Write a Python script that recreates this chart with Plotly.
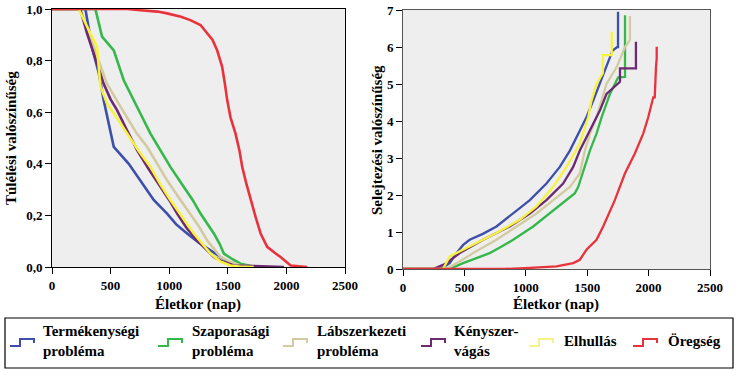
import plotly.graph_objects as go
from plotly.subplots import make_subplots

W, H = 738, 375

# ---------------- data ----------------
series_names = ["Termékenységi<br>probléma", "Szaporasági<br>probléma", "Lábszerkezeti<br>probléma",
                "Kényszer-<br>vágás", "Elhullás", "Öregség"]
series_colors = ["#3d4fa8", "#35b84a", "#d3cba0", "#6e2a70", "#f6f240", "#e8333c"]

# survival (left panel)
surv_t_term = [0, 285, 342, 400, 441, 527, 655, 760, 868, 982, 1060, 1153, 1250, 1352, 1450, 1523, 1600, 1722]
surv_s_term = [1, 1, 0.85, 0.75, 0.646, 0.466, 0.40, 0.33, 0.26, 0.207, 0.165, 0.13, 0.095, 0.065, 0.035, 0.013, 0.006, 0]

surv_t_szap = [0, 370, 427, 527, 612, 700, 754, 840, 925, 1010, 1125, 1200, 1267, 1381, 1430, 1466, 1540, 1608, 1700, 1780]
surv_s_szap = [1, 1, 0.893, 0.84, 0.724, 0.64, 0.595, 0.517, 0.45, 0.388, 0.31, 0.26, 0.207, 0.13, 0.09, 0.052, 0.03, 0.013, 0.004, 0]

surv_t_lab = [0, 242, 313, 400, 470, 560, 640, 720, 811, 900, 982, 1080, 1181, 1250, 1324, 1438, 1520, 1608, 1700, 1836]
surv_s_lab = [1, 1, 0.906, 0.80, 0.71, 0.64, 0.58, 0.52, 0.466, 0.40, 0.336, 0.27, 0.207, 0.16, 0.103, 0.039, 0.02, 0.006, 0.003, 0]

surv_t_keny = [0, 240, 299, 380, 441, 500, 555, 640, 726, 825, 925, 1000, 1068, 1150, 1238, 1381, 1460, 1552, 1700, 1850, 1979]
surv_s_keny = [1, 1, 0.906, 0.79, 0.71, 0.65, 0.608, 0.53, 0.453, 0.38, 0.31, 0.26, 0.207, 0.15, 0.103, 0.039, 0.02, 0.006, 0.004, 0.002, 0]

surv_t_elh = [0, 228, 327, 384, 413, 470, 550, 640, 740, 840, 925, 1010, 1110, 1210, 1352, 1440, 1523, 1600, 1722]
surv_s_elh = [1, 1, 0.906, 0.854, 0.70, 0.634, 0.58, 0.517, 0.45, 0.388, 0.32, 0.26, 0.195, 0.13, 0.052, 0.02, 0.006, 0.002, 0]

surv_t_oreg = [0, 640, 754, 900, 982, 1100, 1181, 1267, 1324, 1370, 1409, 1452, 1475, 1495, 1523, 1566, 1600, 1623,
               1660, 1694, 1737, 1780, 1836, 1900, 1950, 2036, 2100, 2178]
surv_s_oreg = [1, 1, 0.995, 0.99, 0.983, 0.97, 0.957, 0.938, 0.906, 0.88, 0.84, 0.776, 0.71, 0.647, 0.58, 0.517, 0.45,
               0.388, 0.32, 0.26, 0.194, 0.13, 0.078, 0.055, 0.039, 0.006, 0.002, 0]

# cumulative hazard (right panel)
haz_t_term = [0, 272, 330, 380, 435, 490, 543, 650, 761, 897, 1033, 1168, 1277, 1359, 1427, 1494, 1549, 1603, 1657, 1706, 1745, 1751, 1751]
haz_h_term = [0, 0, 0.05, 0.16, 0.43, 0.65, 0.79, 0.95, 1.15, 1.5, 1.86, 2.31, 2.76, 3.2, 3.66, 4.1, 4.55, 5.0, 5.45, 5.9, 6.0, 6.0, 6.95]

haz_t_szap = [0, 380, 489, 600, 706, 800, 897, 1060, 1196, 1331, 1400, 1427, 1481, 1522, 1576, 1617, 1685, 1752, 1808, 1808]
haz_h_szap = [0, 0, 0.16, 0.3, 0.43, 0.6, 0.79, 1.15, 1.5, 1.86, 2.05, 2.22, 2.76, 3.2, 3.66, 4.1, 4.73, 5.18, 5.19, 6.86]

haz_t_lab = [0, 353, 460, 571, 761, 924, 1087, 1223, 1359, 1440, 1460, 1481, 1522, 1576, 1657, 1739, 1808, 1848, 1848]
haz_h_lab = [0, 0, 0.2, 0.43, 0.79, 1.15, 1.5, 1.86, 2.22, 2.58, 2.9, 3.2, 3.66, 4.1, 5.0, 5.45, 6.0, 6.19, 6.84]

haz_t_keny = [0, 245, 350, 462, 652, 869, 1033, 1168, 1304, 1386, 1440, 1535, 1603, 1657, 1767, 1767, 1897, 1897]
haz_h_keny = [0, 0, 0.15, 0.43, 0.79, 1.15, 1.5, 1.86, 2.31, 2.76, 3.2, 3.84, 4.28, 4.73, 5.06, 5.42, 5.42, 6.14]

haz_t_elh = [0, 326, 380, 543, 761, 951, 1087, 1223, 1331, 1440, 1508, 1535, 1576, 1628, 1628, 1700, 1700]
haz_h_elh = [0, 0, 0.34, 0.61, 0.97, 1.33, 1.69, 2.22, 2.76, 3.39, 4.1, 4.55, 5.0, 5.3, 5.78, 5.78, 6.41]

haz_t_oreg = [0, 815, 1033, 1250, 1386, 1440, 1494, 1576, 1630, 1725, 1807, 1888, 1956, 1997, 2038, 2050, 2060, 2066, 2066]
haz_h_oreg = [0, 0, 0.03, 0.07, 0.16, 0.25, 0.52, 0.79, 1.15, 1.86, 2.58, 3.12, 3.66, 4.1, 4.64, 4.64, 5.45, 5.7, 6.01]

x_tickvals = [0, 500, 1000, 1500, 2000, 2500]
x_ticktext = ["0", "500", "1000", "1500", "2000", "2500"]
y1_tickvals = [0, 0.2, 0.4, 0.6, 0.8, 1.0]
y1_ticktext = ["0,0", "0,2", "0,4", "0,6", "0,8", "1,0"]
y2_tickvals = [0, 1, 2, 3, 4, 5, 6, 7]
y2_ticktext = ["0", "1", "2", "3", "4", "5", "6", "7"]

left_title_y = "Túlélési valószínűség"
right_title_y = "Selejtezési valószínűség"
title_x = "Életkor (nap)"

surv_sets = [(surv_t_term, surv_s_term), (surv_t_szap, surv_s_szap), (surv_t_lab, surv_s_lab),
             (surv_t_keny, surv_s_keny), (surv_t_elh, surv_s_elh), (surv_t_oreg, surv_s_oreg)]
haz_sets = [(haz_t_term, haz_h_term), (haz_t_szap, haz_h_szap), (haz_t_lab, haz_h_lab),
            (haz_t_keny, haz_h_keny), (haz_t_elh, haz_h_elh), (haz_t_oreg, haz_h_oreg)]

# ---------------- figure ----------------
def px(x):
    return x / W

def py(y):
    return 1 - y / H

SERIF = "Liberation Serif, Times New Roman, Times, serif"

fig = make_subplots(rows=1, cols=2)

for (t, s), c in zip(surv_sets, series_colors):
    fig.add_trace(go.Scatter(x=t, y=s, mode="lines", line=dict(color=c, width=2.6),
                             showlegend=False, hoverinfo="skip"), row=1, col=1)
for (t, h), c in zip(haz_sets, series_colors):
    fig.add_trace(go.Scatter(x=t, y=h, mode="lines", line=dict(color=c, width=2.3),
                             showlegend=False, hoverinfo="skip"), row=1, col=2)

tickfont = dict(family=SERIF, size=13, color="black", weight="bold")
axis_common = dict(showgrid=False, zeroline=False, showline=True, mirror=True, linecolor="black",
                   linewidth=1, ticks="outside", ticklen=6, tickcolor="black", tickfont=tickfont,
                   automargin=False)

fig.update_xaxes(**axis_common, range=[0, 2500], tickvals=x_tickvals, ticktext=x_ticktext)
fig.update_xaxes(domain=[px(52), px(345)], row=1, col=1)
fig.update_xaxes(domain=[px(403), px(710)], row=1, col=2)
fig.update_yaxes(**axis_common)
fig.update_yaxes(domain=[py(267), py(9)], range=[0, 1], tickvals=y1_tickvals, ticktext=y1_ticktext, row=1, col=1)
fig.update_yaxes(domain=[py(269), py(10)], range=[0, 7], tickvals=y2_tickvals, ticktext=y2_ticktext, row=1, col=2)
fig.update_xaxes(linecolor="#555555", row=1, col=2)
fig.update_yaxes(linecolor="#555555", row=1, col=2)

titlefont = dict(family=SERIF, size=15, color="black", weight="bold")
annotations = [
    dict(text=left_title_y, x=px(11), y=py(138), textangle=-90, font=titlefont),
    dict(text=right_title_y, x=px(377), y=py(140), textangle=-90, font=titlefont),
    dict(text=title_x, x=px(198), y=py(304), font=titlefont),
    dict(text=title_x, x=px(556), y=py(304), font=titlefont),
]
for a in annotations:
    a.update(xref="paper", yref="paper", showarrow=False, xanchor="center", yanchor="middle")

# ---------------- legend (drawn manually) ----------------
shapes = [dict(type="rect", xref="paper", yref="paper", x0=px(5), x1=px(733), y0=py(368), y1=py(318),
               line=dict(color="black", width=1.2), fillcolor="white", layer="below")]
legend_icon_x = [10, 158, 283, 421, 529, 633]
legend_text_x = [41, 190, 315, 452, 562, 666]
legend_colors = ["#3d4fa8", "#35b84a", "#d3cba0", "#6e2a70", "#f6f38a", "#e8333c"]
for ix, tx, c, name in zip(legend_icon_x, legend_text_x, legend_colors, series_names):
    path = (f"M {px(ix)},{py(346)} L {px(ix+10)},{py(346)} L {px(ix+10)},{py(339)} "
            f"L {px(ix+24)},{py(339)} L {px(ix+24)},{py(343)}")
    shapes.append(dict(type="path", xref="paper", yref="paper", path=path,
                       line=dict(color=c, width=2)))
    annotations.append(dict(text=name, x=px(tx), y=py(341), xref="paper", yref="paper",
                            showarrow=False, xanchor="left", yanchor="middle", align="left",
                            font=dict(family=SERIF, size=15, color="black", weight="bold")))

fig.update_layout(width=W, height=H, margin=dict(l=0, r=0, t=0, b=0),
                  paper_bgcolor="white", plot_bgcolor="#eeeeee",
                  annotations=annotations, shapes=shapes, showlegend=False,
                  font=dict(family=SERIF))

fig.write_html("out.html", config={"displayModeBar": False},
               post_script="document.body.style.margin='0';document.body.style.overflow='hidden';")
